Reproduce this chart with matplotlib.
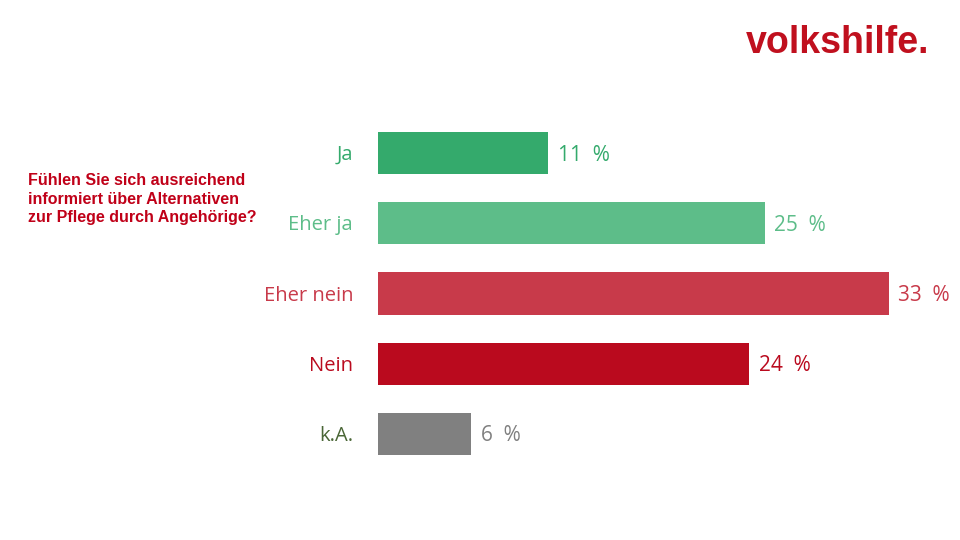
import matplotlib.pyplot as plt

# data
categories = ["Ja", "Eher ja", "Eher nein", "Nein", "k.A."]
values = [11, 25, 33, 24, 6]
bar_colors = ["#34aa6c", "#5dbd89", "#c83a4a", "#ba0a1e", "#808080"]
label_colors = ["#34aa6c", "#5dbd89", "#c83a4a", "#ba0a1e", "#4a6636"]
question = "Fühlen Sie sich ausreichend\ninformiert über Alternativen\nzur Pflege durch Angehörige?"

fig = plt.figure(figsize=(9.6, 5.4), dpi=100)
W, H = 960, 540

# axes placed in pixel terms: bars start at x=378, category 0 centred at y~152
px_per_pct = 15.47
ax = fig.add_axes([378 / W, 71 / H, (W - 378) / W, 351 / H])
ax.set_xlim(0, (W - 378) / px_per_pct)
ax.set_ylim(4.5, -0.5)
ax.axis("off")

ypos = list(range(len(categories)))
ax.barh(ypos, values, height=0.6, color=bar_colors)

for y, v, cat, bc, lc in zip(ypos, values, categories, bar_colors, label_colors):
    ax.annotate(f"{v}  %", (v, y), xytext=(7, -1.5), textcoords="offset points",
                va="center", ha="left", color=bc, fontsize=15,
                family="Open Sans")
    ax.annotate(cat, (0, y), xytext=(-18, -1.5), textcoords="offset points",
                va="center", ha="right", color=lc, fontsize=14.5,
                family="Open Sans")

fig.text(28 / W, 1 - 173 / H, question, ha="left", va="top",
         color="#c00018", fontsize=11.5, fontweight="bold",
         family="Liberation Sans", linespacing=1.3)

fig.text(929 / W, 1 - 53 / H, "volkshilfe.", ha="right", va="baseline",
         color="#c0101e", fontsize=27, fontweight="bold",
         family="Liberation Sans")

fig.savefig("out.png", dpi=100)
